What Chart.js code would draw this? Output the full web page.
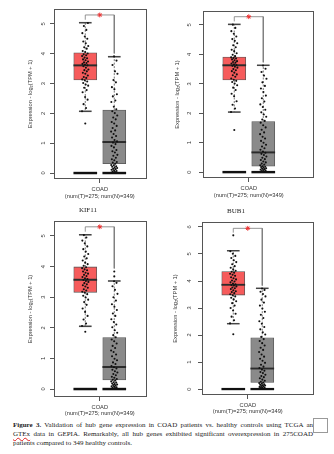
<!DOCTYPE html>
<html>
<head>
<meta charset="utf-8">
<script src="https://cdn.jsdelivr.net/npm/chart.js@4.4.1/dist/chart.umd.min.js"></script>
<style>
  body { margin: 0; background: #fff; width: 334px; height: 454px; overflow: hidden; position: relative; }
  canvas { position: absolute; }
  .gene { position: absolute; font: 7px "Liberation Serif", serif; color: #222; transform: translate(-50%, -50%); white-space: nowrap; }
  .cap { position: absolute; left: 13px; top: 420.5px; width: 300px; font: 7px/9px "Liberation Serif", serif; color: #222; }
  .cap div { white-space: nowrap; }
  .cap .j { text-align: justify; text-align-last: justify; }
  .wavy { text-decoration: underline wavy #e02020; text-decoration-thickness: 0.6px; }
  .sq { position: absolute; left: 313px; top: 418px; width: 13px; height: 13px; border: 1px solid #999; background: #fff; }
</style>
</head>
<body>
<canvas id="p1" width="160" height="200" style="left:0;top:0"></canvas>
<canvas id="p2" width="160" height="200" style="left:167px;top:0"></canvas>
<canvas id="p3" width="160" height="206" style="left:0;top:212px"></canvas>
<canvas id="p4" width="160" height="206" style="left:167px;top:212px"></canvas>
<div class="gene" style="left:88px;top:210px">KIF11</div>
<div class="gene" style="left:236px;top:211px">BUB1</div>
<div class="cap">
  <div class="j"><b>Figure 3.</b> Validation of hub gene expression in COAD patients vs. healthy controls using TCGA an</div>
  <div class="j"><span class="wavy">GTEx</span> data in GEPIA. Remarkably, all hub genes exhibited significant overexpression in 275COAD</div>
  <div>patients compared to 349 healthy controls.</div>
</div>
<div class="sq"></div>
<script>
// shared labels
const xLabel = ['COAD', '(num(T)=275; num(N)=349)'];
const yTitle = 'Expression - log\u2082(TPM + 1)';

// box stats: [lower whisker, Q1, median, Q3, upper whisker]
// panel 1 (top left)
const p1Tumor = [2.07, 3.12, 3.61, 4.03, 5.04];
const p1Normal = [0, 0.31, 1.04, 2.11, 3.9];
const p1TumorOut = [1.66];
const p1NormalOut = [];
const p1Zero = [0, 0];
const p1Bracket = 5.3;
const p1YTicks = [0, 1, 2, 3, 4, 5];
const p1TumorPts = [2.07, 2.18, 2.31, 2.46, 2.55, 2.71, 2.78, 2.86, 2.93, 2.97, 3.02, 3.07, 3.11, 3.14, 3.19, 3.22, 3.27, 3.33, 3.36, 3.41, 3.45, 3.47, 3.53, 3.58, 3.61, 3.63, 3.66, 3.69, 3.71, 3.74, 3.78, 3.81, 3.85, 3.87, 3.92, 3.95, 3.98, 4.01, 4.06, 4.09, 4.17, 4.22, 4.26, 4.35, 4.41, 4.5, 4.58, 4.69, 4.8, 4.93, 5.03];
const p1NormalPts = [0.01, 0.03, 0.05, 0.07, 0.08, 0.11, 0.13, 0.14, 0.17, 0.19, 0.21, 0.23, 0.26, 0.27, 0.31, 0.35, 0.37, 0.43, 0.46, 0.51, 0.58, 0.61, 0.69, 0.73, 0.77, 0.86, 0.91, 0.97, 1.02, 1.06, 1.11, 1.19, 1.24, 1.31, 1.39, 1.43, 1.51, 1.58, 1.66, 1.71, 1.8, 1.86, 1.93, 2.01, 2.07, 2.14, 2.22, 2.38, 2.43, 2.57, 2.64, 2.81, 2.88, 3.04, 3.12, 3.33, 3.41, 3.62, 3.77, 3.91];

// panel 2 (top right)
const p2Tumor = [2.04, 3.13, 3.63, 3.91, 5.02];
const p2Normal = [0, 0.2, 0.67, 1.72, 3.63];
const p2TumorOut = [1.43];
const p2NormalOut = [];
const p2Zero = [0, 0];
const p2Bracket = 5.28;
const p2YTicks = [0, 1, 2, 3, 4, 5];
const p2TumorPts = [2.04, 2.16, 2.29, 2.41, 2.58, 2.66, 2.79, 2.87, 2.95, 3.01, 3.06, 3.1, 3.14, 3.18, 3.24, 3.29, 3.32, 3.38, 3.43, 3.46, 3.5, 3.55, 3.58, 3.61, 3.64, 3.66, 3.69, 3.72, 3.74, 3.77, 3.8, 3.83, 3.86, 3.88, 3.9, 3.94, 3.99, 4.04, 4.11, 4.16, 4.24, 4.31, 4.38, 4.46, 4.52, 4.61, 4.7, 4.79, 4.9, 5.01];
const p2NormalPts = [0.01, 0.02, 0.04, 0.05, 0.07, 0.09, 0.1, 0.12, 0.13, 0.15, 0.17, 0.18, 0.2, 0.23, 0.26, 0.29, 0.33, 0.36, 0.41, 0.44, 0.49, 0.53, 0.58, 0.62, 0.66, 0.7, 0.76, 0.81, 0.87, 0.93, 1.0, 1.06, 1.14, 1.2, 1.29, 1.35, 1.44, 1.52, 1.59, 1.68, 1.74, 1.79, 1.88, 1.96, 2.03, 2.12, 2.21, 2.3, 2.4, 2.51, 2.6, 2.72, 2.84, 2.93, 3.05, 3.17, 3.28, 3.4, 3.51, 3.62];

// panel 3 (bottom left)
const p3Tumor = [2.05, 3.16, 3.57, 3.99, 5.04];
const p3Normal = [0, 0.3, 0.72, 1.68, 3.53];
const p3TumorOut = [1.87];
const p3NormalOut = [3.68, 3.84];
const p3Zero = [0, 0];
const p3Bracket = 5.3;
const p3YTicks = [0, 1, 2, 3, 4, 5];
const p3TumorPts = [2.06, 2.14, 2.27, 2.39, 2.52, 2.63, 2.75, 2.84, 2.92, 2.99, 3.05, 3.1, 3.15, 3.18, 3.22, 3.26, 3.31, 3.35, 3.39, 3.42, 3.46, 3.5, 3.53, 3.56, 3.59, 3.62, 3.66, 3.69, 3.73, 3.77, 3.8, 3.84, 3.88, 3.91, 3.95, 3.98, 4.03, 4.08, 4.13, 4.2, 4.27, 4.33, 4.41, 4.49, 4.57, 4.66, 4.76, 4.85, 4.95, 5.03];
const p3NormalPts = [0.01, 0.03, 0.04, 0.06, 0.08, 0.09, 0.11, 0.13, 0.15, 0.16, 0.18, 0.21, 0.22, 0.25, 0.28, 0.3, 0.33, 0.37, 0.4, 0.45, 0.49, 0.54, 0.58, 0.63, 0.67, 0.71, 0.75, 0.82, 0.87, 0.94, 0.99, 1.07, 1.13, 1.21, 1.26, 1.34, 1.41, 1.49, 1.56, 1.62, 1.69, 1.76, 1.84, 1.92, 2.02, 2.11, 2.19, 2.28, 2.39, 2.47, 2.58, 2.69, 2.77, 2.89, 3.0, 3.11, 3.24, 3.36, 3.47, 3.52];

// panel 4 (bottom right)
const p4Tumor = [2.42, 3.48, 3.86, 4.35, 5.12];
const p4Normal = [0, 0.245, 0.76, 1.9, 3.73];
const p4TumorOut = [2.03, 5.69];
const p4NormalOut = [];
const p4Zero = [0, 0];
const p4Bracket = 5.95;
const p4YTicks = [0, 1, 2, 3, 4, 5, 6];
const p4TumorPts = [2.43, 2.55, 2.68, 2.79, 2.91, 3.0, 3.09, 3.18, 3.25, 3.32, 3.38, 3.43, 3.47, 3.51, 3.55, 3.59, 3.62, 3.66, 3.7, 3.73, 3.76, 3.8, 3.83, 3.85, 3.88, 3.91, 3.95, 3.98, 4.02, 4.06, 4.1, 4.14, 4.19, 4.23, 4.27, 4.31, 4.34, 4.38, 4.43, 4.49, 4.55, 4.62, 4.7, 4.77, 4.85, 4.93, 5.01, 5.1];
const p4NormalPts = [0.01, 0.02, 0.04, 0.05, 0.06, 0.08, 0.1, 0.11, 0.13, 0.14, 0.16, 0.18, 0.2, 0.22, 0.24, 0.27, 0.31, 0.35, 0.4, 0.44, 0.48, 0.53, 0.59, 0.63, 0.68, 0.72, 0.78, 0.83, 0.9, 0.97, 1.05, 1.12, 1.2, 1.28, 1.37, 1.45, 1.53, 1.61, 1.7, 1.78, 1.85, 1.93, 2.02, 2.1, 2.21, 2.3, 2.42, 2.51, 2.63, 2.75, 2.86, 2.98, 3.09, 3.2, 3.31, 3.43, 3.52, 3.6, 3.67, 3.72];

const FONT = '"Liberation Sans", Arial, sans-serif';
const GROUP_X = [0.81, 1.19];       // tumor / normal positions on the x scale
const BOX_COLORS = ['#f65b5b', '#8a8a8a'];

// draws the frame around the plot area
const framePlugin = {
    id: 'frame',
    afterDatasetsDraw(chart) {
        const { ctx, chartArea: a } = chart;
        ctx.save();
        ctx.strokeStyle = '#555';
        ctx.lineWidth = 1;
        ctx.strokeRect(Math.round(a.left) + 0.5, Math.round(a.top) + 0.5, Math.round(a.right - a.left) - 1, Math.round(a.bottom - a.top) - 1);
        ctx.restore();
    }
};

// spread the samples sideways a little, like a jitter strip
const jitter = (i) => (((i * 0.618034) % 1) - 0.5) * 0.085;

function makePanel(id, d, layout) {
    const stats = [d.tumor, d.normal];
    const pts = [d.tumorPts, d.normalPts];
    const outs = [d.tumorOut, d.normalOut];

    const scatterPts = pts.flatMap((arr, g) => arr.map((v, i) => ({ x: GROUP_X[g] + jitter(i), y: v })));
    const outPts = outs.flatMap((arr, g) => arr.map((v) => ({ x: GROUP_X[g], y: v })));
    const whiskers = stats.flatMap((s, g) => [
        { x: GROUP_X[g], y: s[3] }, { x: GROUP_X[g], y: s[4] }, { x: GROUP_X[g], y: null },
        { x: GROUP_X[g], y: s[1] }, { x: GROUP_X[g], y: s[0] }, { x: GROUP_X[g], y: null }
    ]);
    const caps = stats.flatMap((s, g) => [
        { x: GROUP_X[g], y: [s[4] - 0.015, s[4] + 0.015] },
        { x: GROUP_X[g], y: [s[0] - 0.015, s[0] + 0.015] }
    ]);
    const topT = Math.max(d.tumor[4], ...d.tumorPts, ...d.tumorOut) + 0.1;
    const topN = Math.max(d.normal[4], ...d.normalPts, ...d.normalOut) + 0.1;

    new Chart(document.getElementById(id), {
        type: 'bar',
        plugins: [framePlugin],
        data: {
            datasets: [
                {   // significance star
                    type: 'scatter', order: 1,
                    data: [{ x: 1, y: d.bracket }],
                    pointStyle: 'star', pointRadius: 2.4, borderColor: '#ee3333', borderWidth: 1
                },
                {   // bracket
                    type: 'line', order: 2,
                    data: [{ x: GROUP_X[0], y: topT }, { x: GROUP_X[0], y: d.bracket }, { x: GROUP_X[1], y: d.bracket }, { x: GROUP_X[1], y: topN }],
                    borderColor: '#7a7a7a', borderWidth: 0.8, pointRadius: 0
                },
                {   // jittered samples
                    type: 'scatter', order: 3,
                    data: scatterPts.concat(outPts),
                    pointRadius: 1.05, backgroundColor: '#111', borderWidth: 0
                },
                {   // dense samples at zero
                    type: 'bar', order: 4, grouped: false, barThickness: 23,
                    data: d.zero.map((v, g) => ({ x: GROUP_X[g], y: [v - 0.03, v + 0.03] })),
                    backgroundColor: '#111'
                },
                {   // medians
                    type: 'bar', order: 5, grouped: false, barThickness: 23,
                    data: stats.map((s, g) => ({ x: GROUP_X[g], y: [s[2] - 0.022, s[2] + 0.022] })),
                    backgroundColor: '#2b2b2b'
                },
                {   // whisker caps
                    type: 'bar', order: 6, grouped: false, barThickness: 12,
                    data: caps, backgroundColor: '#444'
                },
                {   // boxes
                    type: 'bar', order: 7, grouped: false, barThickness: 23,
                    data: stats.map((s, g) => ({ x: GROUP_X[g], y: [s[1], s[3]] })),
                    backgroundColor: BOX_COLORS, borderColor: '#555', borderWidth: 0.8, borderSkipped: false
                },
                {   // whiskers
                    type: 'line', order: 8,
                    data: whiskers, spanGaps: false,
                    borderColor: '#555', borderWidth: 0.8, borderDash: [2, 1.5], pointRadius: 0
                }
            ]
        },
        options: {
            responsive: false,
            animation: false,
            events: [],
            layout: { padding: { left: 0, top: 9, right: 13, bottom: 0 } },
            plugins: { legend: { display: false }, tooltip: { enabled: false } },
            scales: {
                x: {
                    type: 'linear',
                    offset: false,
                    min: 0.4,
                    max: layout.xMax,
                    afterBuildTicks: (s) => { s.ticks = [{ value: 1 }]; },
                    afterFit: (s) => { s.height = layout.xH; },
                    border: { display: false },
                    grid: { drawOnChartArea: false, offset: false, tickLength: 4, color: '#555' },
                    ticks: {
                        callback: () => xLabel,
                        font: { family: FONT, size: 5.7, lineHeight: 1.15 },
                        color: '#333', padding: layout.xPad, maxRotation: 0, autoSkip: false
                    }
                },
                y: {
                    min: layout.yMin,
                    max: layout.yMax,
                    afterBuildTicks: (s) => { s.ticks = d.yTicks.map((v) => ({ value: v })); },
                    afterFit: (s) => { s.width = layout.yW; },
                    border: { display: false },
                    grid: { drawOnChartArea: false, tickLength: 4, color: '#555' },
                    ticks: {
                        font: { family: FONT, size: 5.7 },
                        color: '#333', padding: layout.tickPad,
                        minRotation: 90, maxRotation: 90, crossAlign: 'center'
                    },
                    title: {
                        display: true, text: yTitle, color: '#333',
                        font: { family: FONT, size: 5.7 },
                        padding: { top: layout.titlePad, bottom: 0 }
                    }
                }
            }
        }
    });
}

makePanel('p1', {
    tumor: p1Tumor, normal: p1Normal, tumorOut: p1TumorOut, normalOut: p1NormalOut,
    tumorPts: p1TumorPts, normalPts: p1NormalPts, zero: p1Zero, bracket: p1Bracket, yTicks: p1YTicks
}, { xMax: 1.619, yMin: -0.2, yMax: 5.5, yW: 54, xH: 21, xPad: 3.5, tickPad: 5.1, titlePad: 26.6 });

makePanel('p2', {
    tumor: p2Tumor, normal: p2Normal, tumorOut: p2TumorOut, normalOut: p2NormalOut,
    tumorPts: p2TumorPts, normalPts: p2NormalPts, zero: p2Zero, bracket: p2Bracket, yTicks: p2YTicks
}, { xMax: 1.855, yMin: -0.2, yMax: 5.47, yW: 36, xH: 22, xPad: 3.5, tickPad: 7.7, titlePad: 6.6 });

makePanel('p3', {
    tumor: p3Tumor, normal: p3Normal, tumorOut: p3TumorOut, normalOut: p3NormalOut,
    tumorPts: p3TumorPts, normalPts: p3NormalPts, zero: p3Zero, bracket: p3Bracket, yTicks: p3YTicks
}, { xMax: 1.619, yMin: -0.26, yMax: 5.49, yW: 54, xH: 21, xPad: 3, tickPad: 5.1, titlePad: 26.6 });

makePanel('p4', {
    tumor: p4Tumor, normal: p4Normal, tumorOut: p4TumorOut, normalOut: p4NormalOut,
    tumorPts: p4TumorPts, normalPts: p4NormalPts, zero: p4Zero, bracket: p4Bracket, yTicks: p4YTicks
}, { xMax: 1.868, yMin: -0.22, yMax: 6.18, yW: 35, xH: 23, xPad: 3, tickPad: 6.7, titlePad: 4.8 });
</script>
</body>
</html>
